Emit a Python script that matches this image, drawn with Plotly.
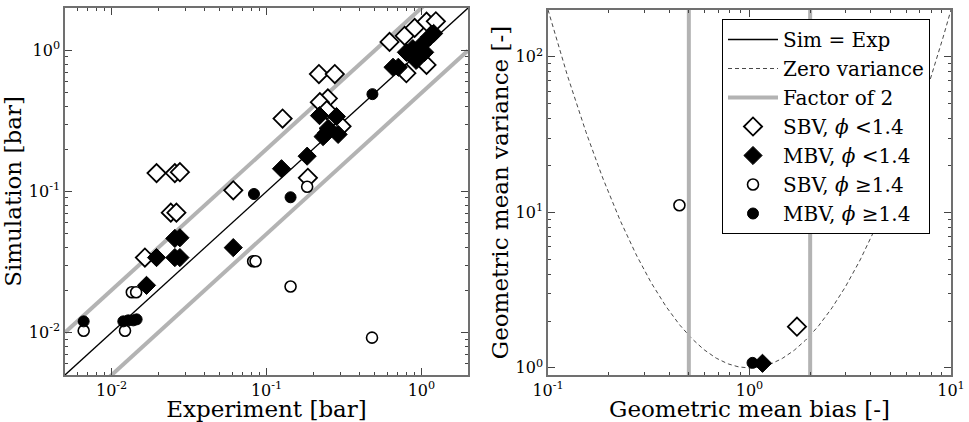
import numpy as np
import plotly.graph_objects as go

# ---------------- data ----------------
sbv_lo_exp = [0.0195, 0.0256, 0.0276, 0.0241, 0.0262, 0.0164, 0.061, 0.127, 0.218, 0.276,
              0.249, 0.221, 0.245, 0.305, 0.185, 0.623, 0.78, 0.905, 1.08, 1.24, 0.80, 1.08]
sbv_lo_sim = [0.135, 0.135, 0.137, 0.0708, 0.0708, 0.0340, 0.102, 0.329, 0.68, 0.68,
              0.457, 0.43, 0.377, 0.29, 0.125, 1.15, 1.27, 1.445, 1.6, 1.61, 0.69, 0.79]

mbv_lo_exp = [0.0195, 0.0256, 0.0276, 0.0168, 0.0256, 0.0276, 0.061, 0.125, 0.183, 0.22,
              0.283, 0.25, 0.232, 0.29, 0.244, 0.656, 0.71, 0.8, 0.88, 0.925, 1.05, 1.0, 1.13, 1.2]
mbv_lo_sim = [0.034, 0.034, 0.034, 0.0216, 0.0465, 0.047, 0.040, 0.145, 0.178, 0.345,
              0.34, 0.28, 0.245, 0.254, 0.26, 0.76, 0.76, 0.97, 1.03, 0.85, 0.97, 1.09, 1.25, 1.32]

sbv_hi_exp = [0.0066, 0.0122, 0.0135, 0.0144, 0.082, 0.085, 0.143, 0.48, 0.183]
sbv_hi_sim = [0.0103, 0.0103, 0.0193, 0.0193, 0.032, 0.032, 0.0212, 0.0092, 0.108]

mbv_hi_exp = [0.0066, 0.0119, 0.0128, 0.0138, 0.0145, 0.083, 0.143, 0.483, 1.1, 1.2]
mbv_hi_sim = [0.012, 0.012, 0.0122, 0.0122, 0.0124, 0.096, 0.091, 0.49, 1.18, 1.3]

# geometric mean bias (MG) and variance (VG) per group
mg_vals = [1.72, 1.16, 0.449, 1.035]
vg_vals = [1.84, 1.07, 11.1, 1.077]

group_names = ["SBV, <i>ϕ</i> <1.4", "MBV, <i>ϕ</i> <1.4",
               "SBV, <i>ϕ</i> ≥1.4", "MBV, <i>ϕ</i> ≥1.4"]

left_range = [0.005, 2.0]
factor = 2.0
mg_range = [0.1, 10.0]
vg_range = [0.9, 200.0]

left_ticks = [0.01, 0.1, 1.0]
left_ticktext = ["10<sup>-2</sup>", "10<sup>-1</sup>", "10<sup>0</sup>"]
right_xticks = [0.1, 1.0, 10.0]
right_xticktext = ["10<sup>-1</sup>", "10<sup>0</sup>", "10<sup>1</sup>"]
right_yticks = [1.0, 10.0, 100.0]
right_yticktext = ["10<sup>0</sup>", "10<sup>1</sup>", "10<sup>2</sup>"]

# ---------------- styles ----------------
FONT = "DejaVu Serif"
GRAY = "#b3b3b3"
styles = [
    dict(symbol="diamond", size=14, color="white", line=dict(width=1.8, color="black")),
    dict(symbol="diamond", size=14, color="black", line=dict(width=1, color="black")),
    dict(symbol="circle", size=11, color="white", line=dict(width=1.6, color="black")),
    dict(symbol="circle", size=11, color="black", line=dict(width=1, color="black")),
]

fig = go.Figure()

# ---- left panel ----
fig.add_trace(go.Scatter(x=left_range, y=left_range, mode="lines",
                         line=dict(color="black", width=1.3),
                         name="Sim = Exp", legendrank=1, xaxis="x", yaxis="y"))
fig.add_trace(go.Scatter(x=left_range, y=[v * factor for v in left_range], mode="lines",
                         line=dict(color=GRAY, width=4), showlegend=False,
                         xaxis="x", yaxis="y"))
fig.add_trace(go.Scatter(x=left_range, y=[v / factor for v in left_range], mode="lines",
                         line=dict(color=GRAY, width=4), showlegend=False,
                         xaxis="x", yaxis="y"))

left_data = [(sbv_lo_exp, sbv_lo_sim), (mbv_lo_exp, mbv_lo_sim),
             (sbv_hi_exp, sbv_hi_sim), (mbv_hi_exp, mbv_hi_sim)]
for i, (xs, ys) in enumerate(left_data):
    fig.add_trace(go.Scatter(x=xs, y=ys, mode="markers", marker=styles[i],
                             name=group_names[i], showlegend=False,
                             xaxis="x", yaxis="y"))

# ---- right panel ----
mg_curve = np.logspace(np.log10(mg_range[0]), np.log10(mg_range[1]), 300)
vg_curve = np.exp(np.log(mg_curve) ** 2)
fig.add_trace(go.Scatter(x=mg_curve, y=vg_curve, mode="lines",
                         line=dict(color="#333333", width=0.9, dash="4px,3px"),
                         name="Zero variance", legendrank=2, xaxis="x2", yaxis="y2"))
fig.add_trace(go.Scatter(x=[1 / factor, 1 / factor], y=vg_range, mode="lines",
                         line=dict(color=GRAY, width=4), name="Factor of 2",
                         legendrank=3, xaxis="x2", yaxis="y2"))
fig.add_trace(go.Scatter(x=[factor, factor], y=vg_range, mode="lines",
                         line=dict(color=GRAY, width=4), showlegend=False,
                         xaxis="x2", yaxis="y2"))
for i in range(4):
    fig.add_trace(go.Scatter(x=[mg_vals[i]], y=[vg_vals[i]], mode="markers",
                             marker=styles[i], name=group_names[i],
                             legendrank=4 + i, xaxis="x2", yaxis="y2"))

W, H = 969, 422
def px_x(a, b):
    return [a / W, b / W]
def px_y(top, bot):
    return [1 - bot / H, 1 - top / H]

minor_left = [m * 10 ** e for e in range(-3, 1) for m in range(2, 10)]
minor_right = [m * 10 ** e for e in range(-2, 3) for m in range(2, 10)]

def axis(domain, rng, tv, tt, title, minor_vals, anchor, standoff):
    return dict(
        type="log", domain=domain, range=[np.log10(rng[0]), np.log10(rng[1])],
        tickvals=tv, ticktext=tt, ticks="inside", ticklen=7, tickwidth=1,
        tickcolor="#444", mirror="allticks", showline=True, linecolor="#707070",
        linewidth=1.5, showgrid=False, zeroline=False, anchor=anchor,
        tickfont=dict(family=FONT, size=16, color="black"),
        title=dict(text=title, font=dict(family=FONT, size=23, color="black"),
                   standoff=standoff),
        minor=dict(tickvals=minor_vals, ticks="inside", ticklen=3.5, tickcolor="#444",
                   showgrid=False),
        automargin=False,
    )

fig.update_layout(
    width=W, height=H, margin=dict(l=0, r=0, t=0, b=0),
    paper_bgcolor="white", plot_bgcolor="white",
    xaxis=axis(px_x(65, 468), left_range, left_ticks, left_ticktext,
               "Experiment [bar]", minor_left, "y", 6),
    yaxis=axis(px_y(8, 375), left_range, left_ticks, left_ticktext,
               "Simulation [bar]", minor_left, "x", 6),
    xaxis2=axis(px_x(548, 951), mg_range, right_xticks, right_xticktext,
                "Geometric mean bias [-]", minor_right, "y2", 6),
    yaxis2=axis(px_y(10, 375), vg_range, right_yticks, right_yticktext,
                "Geometric mean variance [-]", minor_right, "x2", 1),
    legend=dict(x=722 / W, y=1 - 19 / H, xanchor="left", yanchor="top",
                bgcolor="white", bordercolor="black", borderwidth=1,
                font=dict(family=FONT, size=20, color="black"),
                itemwidth=50, tracegroupgap=7, traceorder="normal"),
    showlegend=True,
)

fig.write_html("out.html")
